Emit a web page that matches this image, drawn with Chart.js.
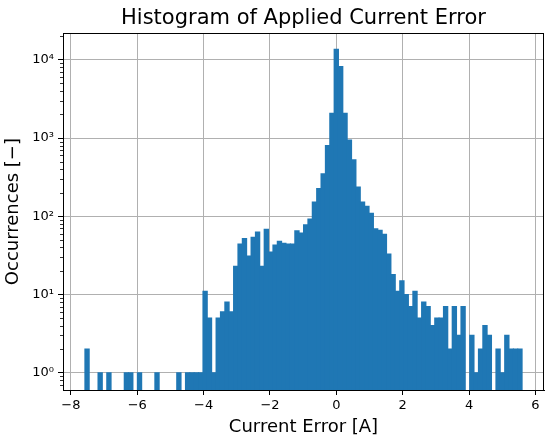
<!DOCTYPE html>
<html>
<head>
<meta charset="utf-8">
<script src="https://cdn.jsdelivr.net/npm/chart.js@4/dist/chart.umd.min.js"></script>
<style>
  body { margin: 0; background: #fff; }
  #wrap { width: 550px; height: 441px; }
</style>
</head>
<body>
<div id="wrap"><canvas id="histChart"></canvas></div>
<script>
// histogram bins (100 bins)
const binStart = -7.58;
const binWidth = 0.1318;
const counts = [
	2, 0, 0, 1, 0, 1, 0, 0, 0, 1,
	1, 0, 1, 0, 0, 0, 1, 0, 0, 0,
	0, 1, 0, 1, 1, 1, 1, 11, 5, 1,
	5, 6, 8, 6, 23, 44, 52, 31, 54, 63,
	23, 68, 35, 43, 48, 45, 44, 44, 65, 61,
	78, 92, 152, 226, 350, 800, 2080, 13600, 8200, 2080,
	940, 528, 237, 152, 134, 109, 69, 66, 59, 33,
	18, 11, 15, 10, 7, 11, 5, 8, 7, 4,
	5, 5, 7, 2, 7, 3, 7, 0, 3, 1,
	2, 4, 3, 0, 2, 1, 3, 2, 2, 2
];

// axis ticks
const xTicks = [-8, -6, -4, -2, 0, 2, 4, 6];
const xTickLabels = ["\u22128", "\u22126", "\u22124", "\u22122", "0", "2", "4", "6"];
const yMajorTicks = [1, 10, 100, 1000, 10000];
const yTickLabels = ["10\u2070", "10\u00b9", "10\u00b2", "10\u00b3", "10\u2074"];

Chart.defaults.font.family = "'DejaVu Sans', sans-serif";
Chart.defaults.color = "#000";

// bin centres -> bar positions
const points = counts.map((c, i) => ({
	x: binStart + (i + 0.5) * binWidth,
	y: c > 0 ? c : null,
}));

// matplotlib style 5% margins (log margins on y)
const xSpan = counts.length * binWidth;
const xMin = binStart - 0.05 * xSpan;
const xMax = binStart + xSpan + 0.05 * xSpan;
const logHi = Math.log10(Math.max(...counts));
const yMin = Math.pow(10, -0.05 * logHi);
const yMax = Math.pow(10, logHi * 1.05);

// minor log ticks 2..9 per decade
const yMinorTicks = [];
for (let d = -1; d <= 4; d++) {
	for (let m = 2; m <= 9; m++) {
		const v = m * Math.pow(10, d);
		if (v > yMin && v < yMax) yMinorTicks.push(v);
	}
}

// top/right spines + minor y ticks
const framePlugin = {
	id: "frame",
	afterDraw(chart) {
		const { ctx, chartArea: a } = chart;
		const yScale = chart.scales.y;
		const l = Math.round(a.left), t = Math.round(a.top);
		const r = Math.round(a.right), b = Math.round(a.bottom);
		ctx.save();
		ctx.strokeStyle = "#000";
		ctx.lineWidth = 1;
		ctx.strokeRect(l + 0.5, t + 0.5, r - l - 1, b - t);
		ctx.lineWidth = 0.8;
		ctx.beginPath();
		yMinorTicks.forEach((v) => {
			const py = Math.round(yScale.getPixelForValue(v)) + 0.5;
			ctx.moveTo(l - 3, py);
			ctx.lineTo(l, py);
		});
		ctx.stroke();
		ctx.restore();
	},
};

new Chart(document.getElementById("histChart"), {
	type: "bar",
	data: {
		datasets: [
			{
				data: points,
				backgroundColor: "#1f77b4",
				borderWidth: 0,
				inflateAmount: 0.5,
				barPercentage: 1,
				categoryPercentage: 1,
			},
		],
	},
	options: {
		responsive: true,
		maintainAspectRatio: false,
		animation: false,
		layout: { padding: { left: 0, right: 6, top: 0, bottom: 0 } },
		plugins: {
			legend: { display: false },
			tooltip: { enabled: false },
			title: {
				display: true,
				text: "Histogram of Applied Current Error",
				fullSize: false,
				color: "#000",
				font: { size: 21, weight: "normal" },
				padding: { top: 6, bottom: 2 },
			},
		},
		scales: {
			x: {
				type: "linear",
				min: xMin,
				max: xMax,
				offset: false,
				z: 1,
				grid: { offset: false, color: "#b0b0b0", lineWidth: 1, tickLength: 5, tickColor: "#000", tickWidth: 1 },
				border: { display: true, color: "#000", width: 1 },
				ticks: {
					autoSkip: false,
					maxRotation: 0,
					padding: 3,
					font: { size: 13 },
					callback: (value, index) => xTickLabels[index],
				},
				afterBuildTicks: (scale) => {
					scale.ticks = xTicks.map((v) => ({ value: v }));
				},
				afterFit: (scale) => {
					scale.height = 51;
					scale.paddingLeft = 0;
					scale.paddingRight = 0;
				},
				title: {
					display: true,
					text: "Current Error [A]",
					font: { size: 18 },
					padding: { top: 0, bottom: 3 },
				},
			},
			y: {
				type: "logarithmic",
				min: yMin,
				max: yMax,
				z: 1,
				grid: { color: "#b0b0b0", lineWidth: 1, tickLength: 5, tickColor: "#000", tickWidth: 1 },
				border: { display: true, color: "#000", width: 1 },
				ticks: {
					autoSkip: false,
					padding: 4,
					font: { size: 13 },
					callback: (value) => {
						const i = yMajorTicks.indexOf(value);
						return i >= 0 ? yTickLabels[i] : "";
					},
				},
				afterBuildTicks: (scale) => {
					scale.ticks = yMajorTicks.map((v) => ({ value: v }));
				},
				afterFit: (scale) => {
					scale.width = 63;
					scale.paddingTop = 0;
					scale.paddingBottom = 0;
				},
				title: {
					display: true,
					text: "Occurrences [\u2212]",
					font: { size: 18 },
					padding: { top: 3, bottom: 0 },
				},
			},
		},
	},
	plugins: [framePlugin],
});
</script>
</body>
</html>
